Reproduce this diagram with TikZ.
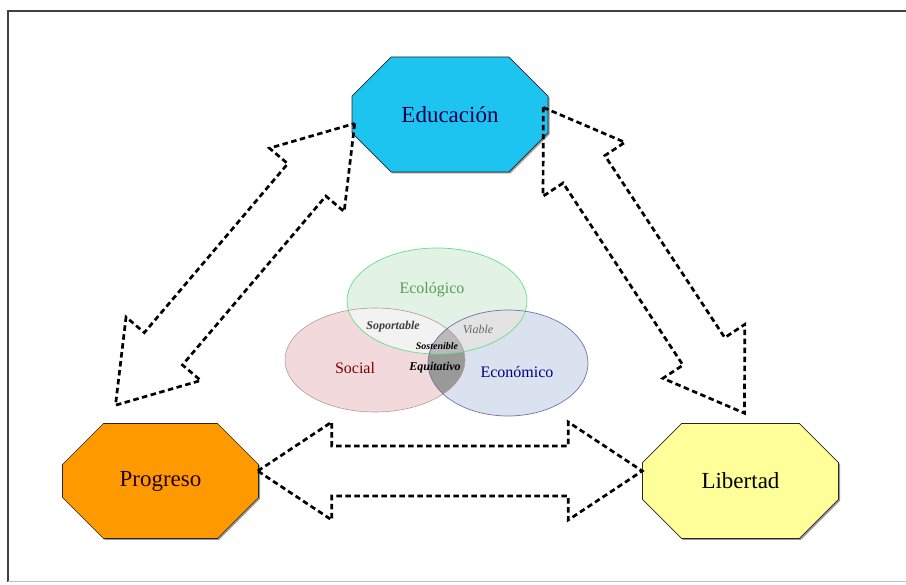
\documentclass[tikz,border=0pt]{standalone}
\usepackage{fontspec}
\setmainfont{Liberation Serif}
\usepackage{tikz}
\usetikzlibrary{positioning,shapes,shadows,calc}
\usepackage{xcolor}
\definecolor{educ}{RGB}{30,196,240}
\definecolor{progr}{RGB}{255,153,0}
\definecolor{liber}{RGB}{255,255,153}
\definecolor{ecofill}{RGB}{226,242,228}
\definecolor{socfill}{RGB}{242,218,220}
\definecolor{ecnfill}{RGB}{218,226,240}
\tikzstyle{pillar}=[chamfered rectangle, chamfered rectangle sep=31pt, draw=black!85,
line width=0.6pt, drop shadow={shadow xshift=1.5pt, shadow yshift=-1.5pt, opacity=0.8},
minimum width=196pt, minimum height=115pt, inner sep=0pt, font=\fontsize{23}{26}\selectfont]
\tikzstyle{link}=[line width=2.7pt, dash pattern=on 5.5pt off 3.5pt, line join=miter]
\tikzstyle{venn}=[font=\fontsize{16}{18}\selectfont]
\tikzstyle{meet}=[font=\fontsize{12}{14}\selectfont\bfseries\itshape]

% dashed double block arrow from tip #1 to tip #2
\newcommand{\blockarrow}[2]{%
    \coordinate (h1) at ($(#1)!74pt!(#2)$);
    \coordinate (h2) at ($(#2)!74pt!(#1)$);
    \draw[link] (#1) -- ($(h1)!49pt!90:(#2)$) -- ($(h1)!25pt!90:(#2)$)
        -- ($(h2)!25pt!-90:(#1)$) -- ($(h2)!49pt!-90:(#1)$) -- (#2)
        -- ($(h2)!49pt!90:(#1)$) -- ($(h2)!25pt!90:(#1)$)
        -- ($(h1)!25pt!-90:(#2)$) -- ($(h1)!49pt!-90:(#2)$) -- cycle;
}

\begin{document}
\begin{tikzpicture}[x=1pt,y=1pt]
        \useasboundingbox (0,0) rectangle (906,585);
        \draw[black!75, line width=1.2pt] (8,3) -- (8,574) -- (915,574);
        \draw[black!25, line width=1pt] (8,3) -- (915,3);

        % venn
        \coordinate (ecoC) at (437,284);
        \coordinate (socC) at (375,225);
        \coordinate (ecnC) at (508,222);
        \fill[ecofill] (ecoC) ellipse (90 and 53);
        \fill[socfill] (socC) ellipse (90 and 52);
        \fill[ecnfill] (ecnC) ellipse (80 and 53);
        \begin{scope}
            \clip (ecoC) ellipse (90 and 53);
            \fill[black!11] (ecnC) ellipse (80 and 53);
        \end{scope}
        \begin{scope}
            \clip (socC) ellipse (90 and 52);
            \fill[black!5] (ecoC) ellipse (90 and 53);
            \fill[black!40] (ecnC) ellipse (80 and 53);
            \clip (ecnC) ellipse (80 and 53);
            \fill[black!27] (ecoC) ellipse (90 and 53);
        \end{scope}
        \draw[green!55!teal!60, line width=0.7pt] (ecoC) ellipse (90 and 53);
        \draw[red!30!black!40, line width=0.6pt] (socC) ellipse (90 and 52);
        \draw[blue!40!black!55, line width=0.7pt] (ecnC) ellipse (80 and 53);

        \node (eco)[venn, text=green!40!black!65] at (432,295) {Ecológico};
        \node (soc)[venn, text=red!50!black] at (355,217) {Social};
        \node (ecn)[venn, text=blue!50!black] at (517,213) {Económico};
        \node (sop)[meet, text=black!75] at (393,258) {Soportable};
        \node (via)[meet, text=black!60, font=\fontsize{12}{14}\selectfont\itshape] at (478,256) {Viable};
        \node (sos)[meet, font=\fontsize{10}{12}\selectfont\bfseries\itshape] at (437,239) {Sostenible};
        \node (equ)[meet] at (435,217) {Equitativo};

        % pillars
        \node (edu)[pillar, fill=educ, text=blue!30!black] at (450,470.5) {Educación};
        \node (pro)[pillar, fill=progr, text=black!85!red] at (160.5,104) {Progreso};
        \node (lib)[pillar, fill=liber] at (740.5,104) {Libertad};

        \coordinate (eduW) at ($(edu.west)+(3,-9)$);
        \coordinate (eduE) at ($(edu.east)+(-5,7)$);
        \coordinate (proN) at ($(pro.north)+(-45,18)$);
        \coordinate (proE) at ($(pro.east)+(-1,10)$);
        \coordinate (libN) at ($(lib.north)+(4,10)$);
        \coordinate (libW) at ($(lib.west)+(0,10)$);

        \blockarrow{eduW}{proN}
        \blockarrow{eduE}{libN}
        \blockarrow{proE}{libW}
\end{tikzpicture}
\end{document}
